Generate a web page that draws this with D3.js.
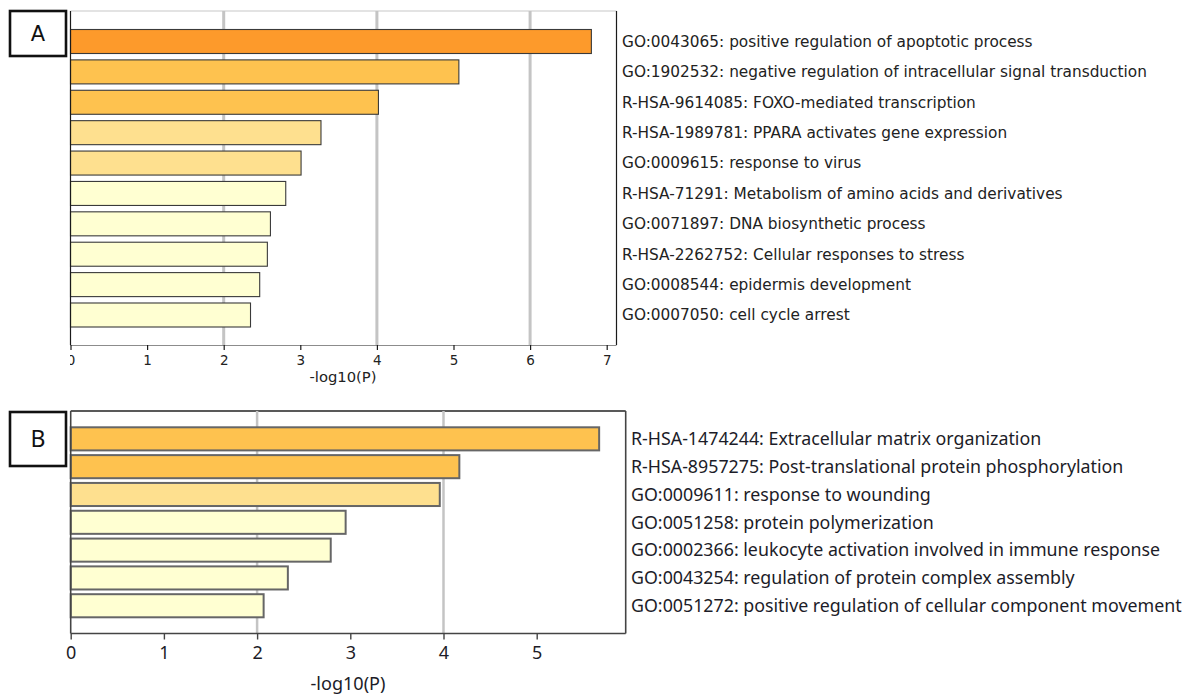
<!DOCTYPE html>
<html>
<head>
<meta charset="utf-8">
<script src="https://cdn.jsdelivr.net/npm/d3@7"></script>
<style>
  html, body { margin: 0; padding: 0; background: #fff; }
  svg { display: block; }
</style>
</head>
<body>
<svg id="chart" width="1190" height="696"></svg>
<script>
// Panel A: enriched terms and their -log10(P)
const termsA = [
  "GO:0043065: positive regulation of apoptotic process",
  "GO:1902532: negative regulation of intracellular signal transduction",
  "R-HSA-9614085: FOXO-mediated transcription",
  "R-HSA-1989781: PPARA activates gene expression",
  "GO:0009615: response to virus",
  "R-HSA-71291: Metabolism of amino acids and derivatives",
  "GO:0071897: DNA biosynthetic process",
  "R-HSA-2262752: Cellular responses to stress",
  "GO:0008544: epidermis development",
  "GO:0007050: cell cycle arrest"
];
const valuesA = [6.80, 5.07, 4.02, 3.27, 3.01, 2.81, 2.61, 2.57, 2.47, 2.35];
const ticksA = [0, 1, 2, 3, 4, 5, 6, 7];
const gridA = [2, 4, 6];

// Panel B
const termsB = [
  "R-HSA-1474244: Extracellular matrix organization",
  "R-HSA-8957275: Post-translational protein phosphorylation",
  "GO:0009611: response to wounding",
  "GO:0051258: protein polymerization",
  "GO:0002366: leukocyte activation involved in immune response",
  "GO:0043254: regulation of protein complex assembly",
  "GO:0051272: positive regulation of cellular component movement"
];
const valuesB = [5.67, 4.17, 3.96, 2.95, 2.79, 2.33, 2.07];
const ticksB = [0, 1, 2, 3, 4, 5];
const gridB = [2, 4];

const axisTitle = "-log10(P)";

// colour bins by significance
const fill = d3.scaleThreshold()
  .domain([3, 4, 6])
  .range(["#ffffd2", "#fee08f", "#fec24f", "#fd9a2b"]);

const svg = d3.select("#chart");

// shrink/grow a text selection's font so its widest line spans `target` px
function fitWidth(sel, size, target) {
  let w = 0;
  sel.each(function () { w = Math.max(w, this.getComputedTextLength()); });
  if (w > 0) sel.attr("font-size", size * target / w);
}

function panel(cfg) {
  const g = svg.append("g");
  const x = d3.scaleLinear().domain([0, cfg.xMax]).range([cfg.left, cfg.left + cfg.unit * cfg.xMax]);
  const y = d3.scaleBand().domain(cfg.terms).range([cfg.barTop, cfg.barBottom])
    .paddingInner(cfg.padInner).paddingOuter(0);

  // frame top / right
  g.append("line").attr("x1", cfg.left).attr("x2", cfg.right)
    .attr("y1", cfg.top).attr("y2", cfg.top)
    .attr("stroke", cfg.topColor).attr("stroke-width", cfg.frameWidth);
  g.append("line").attr("x1", cfg.right).attr("x2", cfg.right)
    .attr("y1", cfg.top).attr("y2", cfg.axisY)
    .attr("stroke", cfg.frameColor).attr("stroke-width", cfg.frameWidth);

  // vertical grid
  g.selectAll(".grid").data(cfg.grid).join("line")
    .attr("x1", d => x(d)).attr("x2", d => x(d))
    .attr("y1", cfg.top).attr("y2", cfg.axisY)
    .attr("stroke", "#c4c4c4").attr("stroke-width", cfg.gridWidth);

  // bars
  g.selectAll(".bar").data(cfg.values).join("rect")
    .attr("x", x(0))
    .attr("y", (d, i) => y(cfg.terms[i]))
    .attr("width", d => x(d) - x(0))
    .attr("height", y.bandwidth())
    .attr("fill", d => fill(d))
    .attr("stroke", cfg.barStroke)
    .attr("stroke-width", cfg.barStrokeWidth);

  // left axis line
  g.append("line").attr("x1", cfg.left).attr("x2", cfg.left)
    .attr("y1", cfg.top).attr("y2", cfg.axisY)
    .attr("stroke", cfg.frameColor).attr("stroke-width", cfg.frameWidth);

  // bottom axis
  const axis = d3.axisBottom(x).tickValues(cfg.ticks).tickFormat(d3.format("d"))
    .tickSize(cfg.tickLen).tickPadding(cfg.tickPad).tickSizeOuter(0);
  const ax = g.append("g").attr("transform", `translate(0,${cfg.axisY})`).call(axis);
  ax.select(".domain").attr("d", `M${cfg.left},0H${cfg.right}`)
    .attr("stroke", cfg.frameColor).attr("stroke-width", cfg.frameWidth);
  ax.selectAll(".tick line").attr("stroke", cfg.frameColor).attr("stroke-width", cfg.tickWidth);
  ax.selectAll(".tick text")
    .attr("font-family", cfg.font).attr("font-size", cfg.tickFont).attr("fill", cfg.textColor);
  if (cfg.clipLeft) {
    svg.append("clipPath").attr("id", cfg.id + "clip")
      .append("rect").attr("x", cfg.left - 0.5).attr("y", 0).attr("width", 1190).attr("height", 696);
    ax.attr("clip-path", `url(#${cfg.id}clip)`);
  }

  // axis title
  const title = g.append("text").attr("x", cfg.titleX).attr("y", cfg.titleY)
    .attr("text-anchor", "middle")
    .attr("font-family", cfg.font).attr("font-size", cfg.titleFont).attr("fill", cfg.textColor)
    .text(axisTitle);
  fitWidth(title, cfg.titleFont, cfg.titleWidth);

  // term labels
  const labels = g.selectAll(".lab").data(cfg.terms).join("text")
    .attr("x", cfg.labelX)
    .attr("y", d => y(d) + y.bandwidth() / 2)
    .attr("dy", "0.35em")
    .attr("font-family", cfg.font).attr("font-size", cfg.labelFont).attr("fill", cfg.textColor)
    .text(d => d);
  fitWidth(labels, cfg.labelFont, cfg.labelWidth);

  // panel letter box
  g.append("rect").attr("x", cfg.boxX).attr("y", cfg.boxY)
    .attr("width", cfg.boxW).attr("height", cfg.boxH)
    .attr("fill", "#fff").attr("stroke", "#111").attr("stroke-width", 2.6);
  g.append("text").attr("x", cfg.boxX + cfg.boxW / 2).attr("y", cfg.boxY + cfg.boxH / 2)
    .attr("dy", "0.36em").attr("text-anchor", "middle")
    .attr("font-family", cfg.letterFont).attr("font-size", cfg.letterSize).attr("fill", "#111")
    .text(cfg.letter);
}

const verdanaLike = "'DejaVu Sans', 'Bitstream Vera Sans', Verdana, sans-serif";

panel({
  id: "A", letter: "A",
  terms: termsA, values: valuesA, ticks: ticksA, grid: gridA, xMax: 7,
  left: 70.5, unit: 76.6, right: 616.5, top: 11, axisY: 345,
  barTop: 29.5, barBottom: 327, padInner: 0.21,
  frameColor: "#1a1a1a", topColor: "#c8c8c8", frameWidth: 1.2, gridWidth: 3,
  barStroke: "#3a3a3a", barStrokeWidth: 1.1,
  tickLen: 5, tickPad: 5, tickWidth: 1.2, tickFont: 13.5,
  font: verdanaLike, textColor: "#222",
  titleX: 343, titleY: 382, titleFont: 12.5, titleWidth: 67,
  labelX: 622, labelFont: 13.2, labelWidth: 525,
  clipLeft: true,
  boxX: 10, boxY: 11, boxW: 56, boxH: 45, letterFont: verdanaLike, letterSize: 21
});

panel({
  id: "B", letter: "B",
  terms: termsB, values: valuesB, ticks: ticksB, grid: gridB, xMax: 5,
  left: 70.7, unit: 93.2, right: 625.7, top: 411, axisY: 633.5,
  barTop: 427.3, barBottom: 617.3, padInner: 0.17,
  frameColor: "#444", topColor: "#222", frameWidth: 1.6, gridWidth: 2.5,
  barStroke: "#666", barStrokeWidth: 2,
  tickLen: 6, tickPad: 7, tickWidth: 1.4, tickFont: 18,
  font: "'Noto Sans', sans-serif", textColor: "#1c1c28",
  titleX: 348, titleY: 690, titleFont: 18, titleWidth: 75,
  labelX: 631, labelFont: 17.5, labelWidth: 551,
  clipLeft: false,
  boxX: 10, boxY: 412, boxW: 56, boxH: 54, letterFont: "'Noto Sans', sans-serif", letterSize: 23
});
</script>
</body>
</html>
